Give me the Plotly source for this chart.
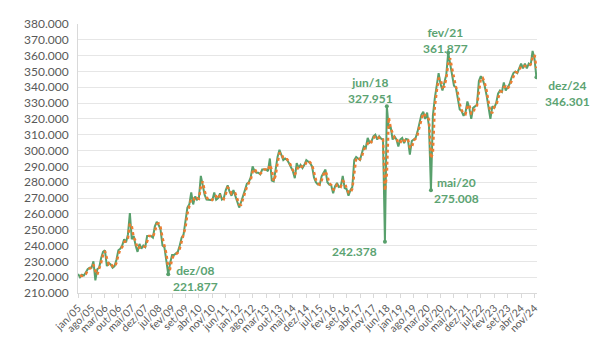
import plotly.graph_objects as go
import pandas as pd

month_names = ["jan", "fev", "mar", "abr", "mai", "jun", "jul", "ago", "set", "out", "nov", "dez"]
years = list(range(2005, 2025))
categories = [f"{m}/{str(y)[2:]}" for y in years for m in month_names]

values = [
    222, 220, 221.5, 221, 223, 225, 226, 226, 230, 218, 225, 226,            # 2005
    232, 236, 237, 227, 229, 228, 226, 227, 231, 237, 238, 240,              # 2006
    244, 242, 247, 260.5, 244, 246, 240, 236, 241, 238, 240, 239,            # 2007
    246, 246, 246, 245, 252, 255, 253, 250, 240, 239, 231, 221.877,          # 2008
    229, 234, 234, 235, 236, 240, 245, 247, 256, 264, 266, 273.5,            # 2009
    266, 271, 269, 270, 284, 277, 272, 269, 269, 269, 268.6, 273.5,          # 2010
    269, 270, 273, 269, 270, 275, 278, 274, 271.5, 275, 271, 268,            # 2011
    264, 267.5, 272, 275, 279, 280, 283, 290, 287, 286, 286, 285,            # 2012
    288, 288, 288, 287, 295, 281, 280.5, 288, 296, 300.5, 296.5, 294,        # 2013
    295, 294, 292, 289, 287, 282.6, 292, 289, 291, 289, 291, 294,            # 2014
    293, 292, 290, 283, 280, 278.5, 278.5, 283.7, 286, 288, 280, 278.5,      # 2015
    278, 273, 277.5, 279.5, 277, 277.5, 284, 276.3, 275.7, 271.5, 275, 277,  # 2016
    294, 296, 295, 294, 298.5, 302.6, 301.6, 308, 305, 305.8, 309, 310,      # 2017
    307, 309, 307.5, 307, 242.378, 327.951, 314, 315, 307, 309, 307, 302.6,  # 2018
    307, 308, 304.7, 307.3, 307, 297.4, 306, 307, 308, 312, 318, 322.6,      # 2019
    324.5, 320, 324, 315, 275.008, 322, 333, 342, 349, 342, 338, 343,        # 2020
    348, 361.877, 355, 349, 341, 340, 333, 326, 325, 322, 324, 331,          # 2021
    327, 320, 327, 328, 329, 344, 347, 345, 341, 335, 328, 320,              # 2022
    328, 327, 330, 336, 338, 337, 343, 338, 340, 342, 346, 349,              # 2023
    350, 349, 352, 355, 352, 355, 352, 355, 354, 363, 358, 346.301,          # 2024
]

tick_labels = [
    "jan/05", "ago/05", "mar/06", "out/06", "mai/07", "dez/07", "jul/08", "fev/09",
    "set/09", "abr/10", "nov/10", "jun/11", "jan/12", "ago/12", "mar/13", "out/13",
    "mai/14", "dez/14", "jul/15", "fev/16", "set/16", "abr/17", "nov/17", "jun/18",
    "jan/19", "ago/19", "mar/20", "out/20", "mai/21", "dez/21", "jul/22", "fev/23",
    "set/23", "abr/24", "nov/24",
]

labelled_points = ["dez/08", "mai/18", "jun/18", "mai/20", "fev/21", "dez/24"]

# Excel 2-period moving-average trendline of the series
moving_avg = pd.Series(values).rolling(2).mean()

GREEN = "#58A06C"
TEXT_GREEN = "#5BA372"
ORANGE = "#ED7D31"
GRID = "#D9D9D9"
TICK = "#595959"
FONT = "Lato"

fig = go.Figure()
fig.add_trace(go.Scatter(
    x=categories, y=values, mode="lines",
    line=dict(color=GREEN, width=2), showlegend=False, hoverinfo="skip",
))
fig.add_trace(go.Scatter(
    x=categories, y=moving_avg, mode="lines",
    line=dict(color=ORANGE, width=2.5, dash="dot"), showlegend=False, hoverinfo="skip",
))
lab_y = [values[categories.index(c)] for c in labelled_points]
fig.add_trace(go.Scatter(
    x=labelled_points, y=lab_y, mode="markers",
    marker=dict(color=GREEN, size=4), showlegend=False, hoverinfo="skip",
))

# label placement (pixel shifts relative to the data point)
shifts = {
    "dez/08": (27, -4, True),
    "jun/18": (-16, 16, True),
    "mai/18": (-30, -10, False),
    "mai/20": (26, 0, True),
    "fev/21": (-3, 12, True),
    "dez/24": (31, -16, True),
}
for c in labelled_points:
    v = values[categories.index(c)]
    dx, dy, with_date = shifts[c]
    txt = f"{c}<br>{v:.3f}" if with_date else f"{v:.3f}"
    fig.add_annotation(
        x=c, y=v, text=txt, showarrow=False, xanchor="center", yanchor="middle",
        xshift=dx, yshift=dy,
        font=dict(family=FONT, size=12, color=TEXT_GREEN, weight="bold"),
    )

fig.update_layout(
    width=612, height=347,
    margin=dict(l=78, r=75, t=24, b=54),
    paper_bgcolor="white", plot_bgcolor="white",
    font=dict(family=FONT, color=TICK),
)
fig.update_xaxes(
    type="category", categoryorder="array", categoryarray=categories,
    tickmode="array", tickvals=tick_labels, ticktext=tick_labels,
    tickangle=-45, tickfont=dict(size=10.5, color=TICK, family=FONT),
    range=[-0.05, 239.3], showgrid=False,
    showline=True, linecolor=GRID, linewidth=1,
    ticks="outside", ticklen=4, tickcolor=GRID,
)
fig.update_yaxes(
    range=[210, 380], tick0=210, dtick=10, tickformat=".3f",
    tickfont=dict(size=12, color=TICK, family=FONT),
    showgrid=True, gridcolor="#E6E6E6", gridwidth=1,
    showline=True, linecolor=GRID, linewidth=1,
    zeroline=False, ticks="", ticklen=0, ticklabelstandoff=6,
)

fig.write_html("out.html")
